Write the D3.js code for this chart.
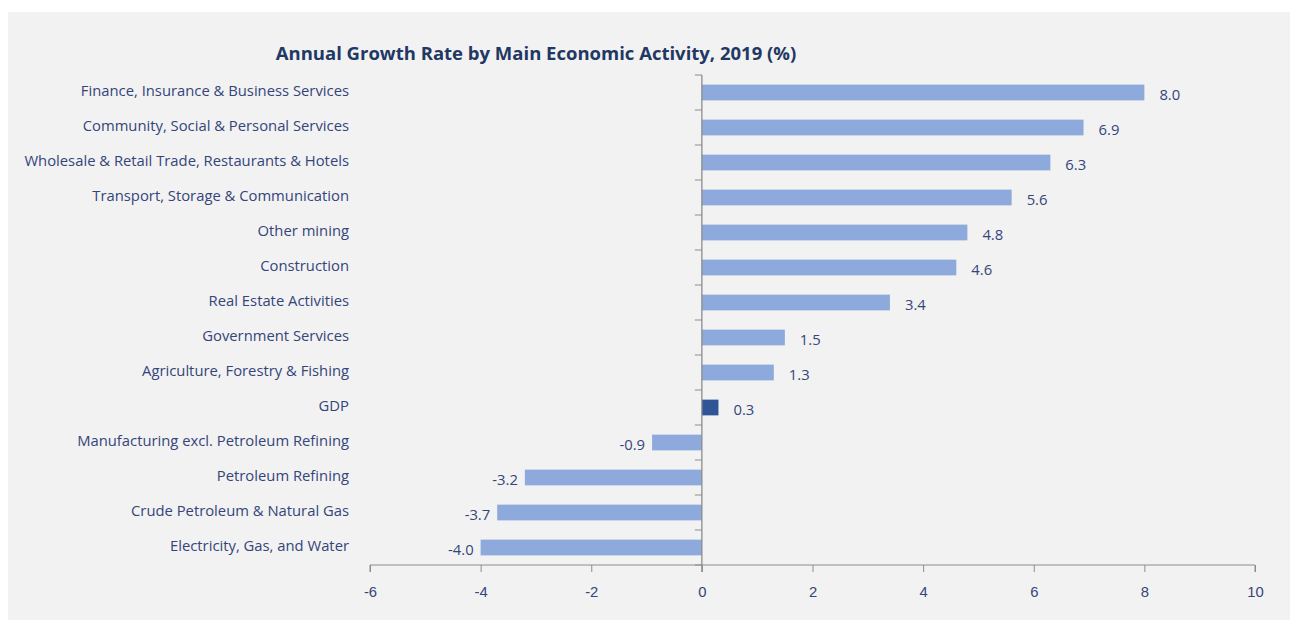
<!DOCTYPE html>
<html>
<head>
<meta charset="utf-8">
<script src="https://cdn.jsdelivr.net/npm/d3@7"></script>
<style>
  body { margin: 0; background: #fff; }
  svg { display: block; font-family: "Open Sans", "Noto Sans", sans-serif; }
</style>
</head>
<body>
<div class="chart"></div>
<script>
// Categories and values (top to bottom)
const categories = [
  "Finance, Insurance & Business Services",
  "Community, Social & Personal Services",
  "Wholesale & Retail Trade, Restaurants & Hotels",
  "Transport, Storage & Communication",
  "Other mining",
  "Construction",
  "Real Estate Activities",
  "Government Services",
  "Agriculture, Forestry & Fishing",
  "GDP",
  "Manufacturing excl. Petroleum Refining",
  "Petroleum Refining",
  "Crude Petroleum & Natural Gas",
  "Electricity, Gas, and Water"
];
const growth = [8.0, 6.9, 6.3, 5.6, 4.8, 4.6, 3.4, 1.5, 1.3, 0.3, -0.9, -3.2, -3.7, -4.0];
const xTicks = [-6, -4, -2, 0, 2, 4, 6, 8, 10];

const W = 1290, H = 621;
const textColor = "#34457A";
const axisColor = "#8C8C8C";

const svg = d3.select(".chart").append("svg")
  .attr("width", W)
  .attr("height", H);

// Grey panel
svg.append("rect")
  .attr("x", 8).attr("y", 12)
  .attr("width", W - 8).attr("height", 608)
  .attr("fill", "#F2F2F2");

// Title
svg.append("text")
  .attr("x", 536).attr("y", 60)
  .attr("text-anchor", "middle")
  .attr("fill", "#1F3864")
  .style("font-size", "18.5px")
  .style("font-weight", "bold")
  .text("Annual Growth Rate by Main Economic Activity, 2019 (%)");

// Scales
const x = d3.scaleLinear().domain([-6, 10]).range([370, 1255]);
const y = d3.scaleBand().domain(categories).range([75, 565]).paddingInner(0.55).paddingOuter(0.275);

// Bottom axis
const xAxis = svg.append("g")
  .attr("transform", "translate(0,565)")
  .call(d3.axisBottom(x).tickValues(xTicks).tickSize(7).tickPadding(14).tickFormat(d3.format("d")));
xAxis.select(".domain").attr("stroke", axisColor).attr("d", `M${x(-6)},7V0H${x(10)}V7`);
xAxis.selectAll(".tick line").attr("stroke", axisColor);
xAxis.selectAll(".tick text").attr("fill", textColor).style("font-size", "14.8px")
  .text(d => d < 0 ? "-" + Math.abs(d) : d);

// Bars
svg.selectAll("rect.bar")
  .data(categories)
  .join("rect")
  .attr("class", "bar")
  .attr("x", (d, i) => x(Math.min(0, growth[i])))
  .attr("y", d => y(d))
  .attr("width", (d, i) => Math.abs(x(growth[i]) - x(0)))
  .attr("height", y.bandwidth())
  .attr("fill", d => d === "GDP" ? "#2F5597" : "#8EA9DB");

// Vertical zero axis with category separators
const step = y.step();
const zeroAxis = svg.append("g");
zeroAxis.append("line")
  .attr("x1", x(0)).attr("x2", x(0))
  .attr("y1", 75).attr("y2", 572)
  .attr("stroke", axisColor).attr("stroke-width", 1.3);
zeroAxis.selectAll("line.sep")
  .data(d3.range(categories.length + 1))
  .join("line")
  .attr("class", "sep")
  .attr("x1", x(0) - 7).attr("x2", x(0))
  .attr("y1", i => 75 + i * step).attr("y2", i => 75 + i * step)
  .attr("stroke", axisColor);

// Category labels
svg.selectAll("text.cat")
  .data(categories)
  .join("text")
  .attr("class", "cat")
  .attr("x", 349)
  .attr("y", d => y(d) + y.bandwidth() / 2 - 2)
  .attr("dy", "0.35em")
  .attr("text-anchor", "end")
  .attr("fill", textColor)
  .style("font-size", "14.8px")
  .text(d => d);

// Value labels
svg.selectAll("text.val")
  .data(categories)
  .join("text")
  .attr("class", "val")
  .attr("x", (d, i) => growth[i] >= 0 ? x(growth[i]) + 15 : x(growth[i]) - 7)
  .attr("y", d => y(d) + y.bandwidth() / 2 + 2)
  .attr("dy", "0.35em")
  .attr("text-anchor", (d, i) => growth[i] >= 0 ? "start" : "end")
  .attr("fill", textColor)
  .style("font-size", "14.8px")
  .text((d, i) => (growth[i] < 0 ? "-" : "") + Math.abs(growth[i]).toFixed(1));
</script>
</body>
</html>
